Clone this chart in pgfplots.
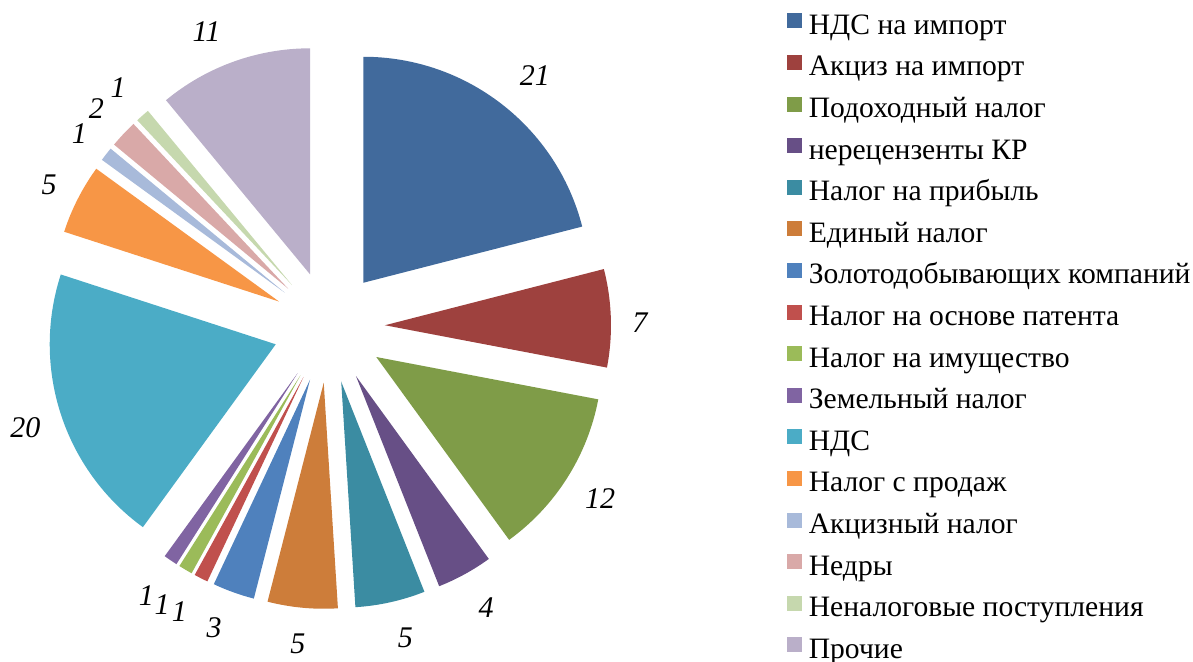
\documentclass[border=0pt]{standalone}
\usepackage{fontspec}
\setmainfont{Liberation Serif}
\usepackage{pgfplots}
\usepackage{pgfplotstable}
\pgfplotsset{compat=1.18}

\definecolor{c1}{HTML}{416A9C}
\definecolor{c2}{HTML}{9E413E}
\definecolor{c3}{HTML}{7F9C48}
\definecolor{c4}{HTML}{674F86}
\definecolor{c5}{HTML}{3B8CA2}
\definecolor{c6}{HTML}{CD7D3A}
\definecolor{c7}{HTML}{4F81BD}
\definecolor{c8}{HTML}{C0504D}
\definecolor{c9}{HTML}{9BBB59}
\definecolor{c10}{HTML}{8064A2}
\definecolor{c11}{HTML}{4BACC6}
\definecolor{c12}{HTML}{F79646}
\definecolor{c13}{HTML}{A8BADA}
\definecolor{c14}{HTML}{D9A9A8}
\definecolor{c15}{HTML}{C6D8AE}
\definecolor{c16}{HTML}{BAAFC9}

% value (percent), colour, label angle shift (deg), label radius
\pgfplotstableread{
value col lshift lr
21 c1  -1.5 325
7  c2  -1   311
12 c3  0    321
4  c4  0.4  322
5  c5  1.2  320
5  c6  -0.2 318
3  c7  -1.1 322
1  c8  -0.7 322
1  c9  -0.4 324
1  c10 0    325
20 c11 0.4  320
5  c12 0    314
1  c13 0    316
2  c14 0    319
1  c15 0    319
11 c16 2.7  320
}\piedata

\newcommand\labelfont{\fontsize{15}{18}\selectfont\itshape}
\def\cx{329}
\def\cy{334}
\def\dexp{56}
\def\rpt{113pt}

\begin{document}
\begin{tikzpicture}
\useasboundingbox (0,0) rectangle (596.5pt,330.5pt);
\begin{axis}[
  at={(0,0)}, anchor=origin,
  x=0.5pt, y=0.5pt,
  xmin=0, xmax=1193, ymin=0, ymax=661,
  hide axis, clip=false,
  legend image code/.code={\fill[draw=none] (0pt,-0.3pt) rectangle (7.5pt,7.2pt);},
  legend cell align=left,
  legend style={at={(axis cs:781,652)}, anchor=north west, draw=none, fill=none,
    font=\fontsize{14.8}{17}\selectfont, row sep=6.85pt,
    nodes={inner sep=0pt, text height=10pt, text depth=3.5pt},
    /tikz/every odd column/.append style={column sep=3.2pt}},
]
\def\cum{0}
\pgfplotsforeachungrouped \i in {0,...,15}{%
  \pgfplotstablegetelem{\i}{value}\of\piedata \let\val\pgfplotsretval
  \pgfplotstablegetelem{\i}{col}\of\piedata \let\col\pgfplotsretval
  \pgfplotstablegetelem{\i}{lshift}\of\piedata \let\ls\pgfplotsretval
  \pgfplotstablegetelem{\i}{lr}\of\piedata \let\lrad\pgfplotsretval
  \pgfmathsetmacro\sa{90-3.6*\cum}%
  \pgfmathsetmacro\cumnew{\cum+\val}%
  \pgfmathsetmacro\ea{90-3.6*\cumnew}%
  \pgfmathsetmacro\midang{(\sa+\ea)/2}%
  \pgfmathsetmacro\ax{\cx+\dexp*cos(\midang)}%
  \pgfmathsetmacro\ay{\cy+\dexp*sin(\midang)}%
  \pgfmathsetmacro\lang{\midang+\ls}%
  \pgfmathsetmacro\lx{\cx+\lrad*cos(\lang)}%
  \pgfmathsetmacro\ly{\cy+\lrad*sin(\lang)}%
  \edef\doslice{\noexpand\fill[\col] (axis cs:\ax,\ay) -- ++(\sa:\rpt) arc[start angle=\sa, end angle=\ea, radius=\rpt] -- cycle;
    \noexpand\node[font=\noexpand\labelfont, inner sep=0pt] at (axis cs:\lx,\ly) {\val};}%
  \doslice
  \let\cum\cumnew
}
\addlegendimage{fill=c1}\addlegendentry{НДС на импорт}
\addlegendimage{fill=c2}\addlegendentry{Акциз на импорт}
\addlegendimage{fill=c3}\addlegendentry{Подоходный налог}
\addlegendimage{fill=c4}\addlegendentry{нерецензенты КР}
\addlegendimage{fill=c5}\addlegendentry{Налог на прибыль}
\addlegendimage{fill=c6}\addlegendentry{Единый налог}
\addlegendimage{fill=c7}\addlegendentry{Золотодобывающих компаний}
\addlegendimage{fill=c8}\addlegendentry{Налог на основе патента}
\addlegendimage{fill=c9}\addlegendentry{Налог на имущество}
\addlegendimage{fill=c10}\addlegendentry{Земельный налог}
\addlegendimage{fill=c11}\addlegendentry{НДС}
\addlegendimage{fill=c12}\addlegendentry{Налог с продаж}
\addlegendimage{fill=c13}\addlegendentry{Акцизный налог}
\addlegendimage{fill=c14}\addlegendentry{Недры}
\addlegendimage{fill=c15}\addlegendentry{Неналоговые поступления}
\addlegendimage{fill=c16}\addlegendentry{Прочие}
\end{axis}
\end{tikzpicture}
\end{document}
